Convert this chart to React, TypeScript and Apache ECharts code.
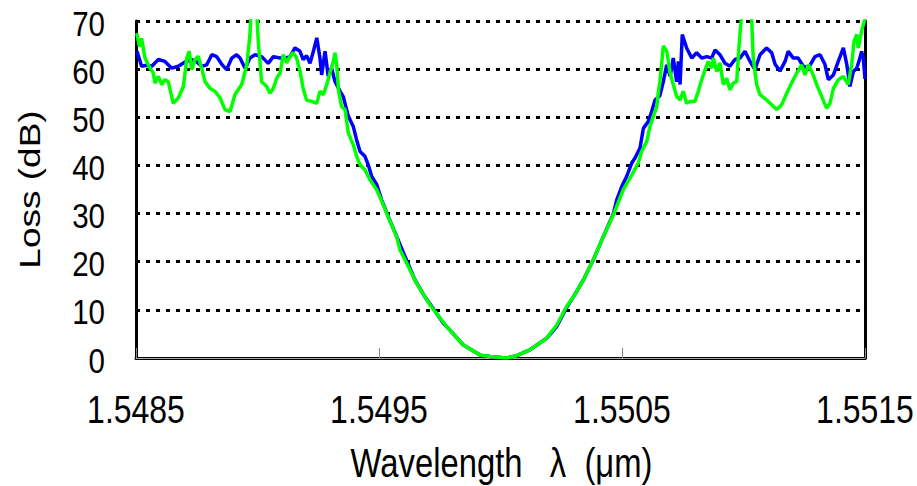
import React, { useEffect, useRef } from "react";
import * as echarts from "echarts";

// Wavelength axis (nm) and tick labels (shown in µm)
const xMinNm = 1548.5;
const xMaxNm = 1551.5;
const xTickValuesNm = [1548.5, 1549.5, 1550.5, 1551.5];
const xTickLabels = ["1.5485", "1.5495", "1.5505", "1.5515"];
const yTickValues = [0, 10, 20, 30, 40, 50, 60, 70];
const yTickLabels = ["0", "10", "20", "30", "40", "50", "60", "70"];
const xTitle = "Wavelength   \u03bb  (\u03bcm)";
const yTitle = "Loss (dB)";

const blueWavelengthNm = [
  1548.504, 1548.523, 1548.544, 1548.565, 1548.592, 1548.619, 1548.647, 1548.674, 1548.702, 1548.729,
  1548.750, 1548.770, 1548.791, 1548.812, 1548.832, 1548.853, 1548.873, 1548.894, 1548.914, 1548.928,
  1548.949, 1548.969, 1548.990, 1549.017, 1549.044, 1549.065, 1549.093, 1549.113, 1549.134, 1549.154,
  1549.175, 1549.188, 1549.202, 1549.216, 1549.230, 1549.244, 1549.257, 1549.264, 1549.278, 1549.291,
  1549.305, 1549.319, 1549.340, 1549.353, 1549.374, 1549.394, 1549.408, 1549.422, 1549.442, 1549.456,
  1549.470, 1549.491, 1549.511, 1549.538, 1549.573, 1549.607, 1549.648, 1549.689, 1549.723, 1549.765,
  1549.792, 1549.847, 1549.916, 1549.957, 1550.025, 1550.067, 1550.121, 1550.190, 1550.231, 1550.272,
  1550.300, 1550.341, 1550.382, 1550.423, 1550.464, 1550.478, 1550.499, 1550.519, 1550.540, 1550.553,
  1550.574, 1550.588, 1550.608, 1550.622, 1550.636, 1550.656, 1550.670, 1550.684, 1550.698, 1550.711,
  1550.725, 1550.732, 1550.739, 1550.748, 1550.766, 1550.787, 1550.807, 1550.828, 1550.849, 1550.869,
  1550.883, 1550.903, 1550.924, 1550.944, 1550.965, 1550.986, 1551.006, 1551.027, 1551.047, 1551.068,
  1551.095, 1551.116, 1551.130, 1551.150, 1551.171, 1551.184, 1551.205, 1551.225, 1551.246, 1551.267,
  1551.294, 1551.315, 1551.335, 1551.349, 1551.370, 1551.390, 1551.411, 1551.425, 1551.438, 1551.452,
  1551.466, 1551.479, 1551.486, 1551.493, 1551.500,
];
const blueLossDb = [
  63.7, 60.6, 60.8, 60.6, 62.0, 61.6, 60.2, 60.6, 61.5, 62.0,
  61.5, 60.6, 60.9, 63.0, 62.6, 61.0, 59.9, 62.3, 63.0, 62.3,
  60.2, 62.3, 63.0, 62.6, 61.2, 62.6, 62.3, 62.3, 62.6, 64.4,
  63.7, 62.0, 62.8, 61.2, 63.7, 66.5, 62.3, 58.8, 63.7, 58.5,
  60.2, 57.4, 55.4, 54.3, 50.2, 48.1, 45.3, 42.9, 41.9, 40.1,
  37.7, 36.0, 32.8, 29.4, 25.2, 21.1, 16.2, 12.7, 10.3, 7.2,
  5.8, 2.7, 0.6, 0.3, 0.0, 0.5, 1.7, 4.1, 6.5, 10.5,
  12.7, 16.2, 20.4, 25.2, 29.9, 32.8, 35.6, 37.7, 40.5, 41.5,
  43.6, 47.7, 49.1, 51.2, 53.6, 54.5, 57.4, 60.9, 58.5, 62.3,
  57.4, 61.6, 56.8, 67.2, 64.4, 62.3, 63.4, 62.3, 62.6, 62.3,
  64.0, 63.0, 61.2, 60.6, 62.0, 62.3, 63.7, 61.6, 59.9, 63.0,
  64.4, 63.4, 61.0, 59.6, 61.6, 63.7, 62.3, 62.3, 60.6, 60.2,
  62.6, 63.0, 61.0, 57.8, 58.8, 61.6, 64.4, 61.0, 56.4, 59.5,
  60.2, 62.3, 63.7, 62.3, 58.0,
];

const greenWavelengthNm = [
  1548.503, 1548.514, 1548.523, 1548.537, 1548.558, 1548.571, 1548.578, 1548.592, 1548.606, 1548.619,
  1548.633, 1548.653, 1548.674, 1548.695, 1548.709, 1548.719, 1548.729, 1548.743, 1548.756, 1548.770,
  1548.784, 1548.805, 1548.825, 1548.846, 1548.866, 1548.887, 1548.907, 1548.935, 1548.956, 1548.969,
  1548.977, 1548.986, 1548.997, 1549.003, 1549.017, 1549.038, 1549.051, 1549.065, 1549.079, 1549.093,
  1549.106, 1549.120, 1549.134, 1549.147, 1549.161, 1549.175, 1549.188, 1549.202, 1549.223, 1549.244,
  1549.257, 1549.271, 1549.285, 1549.298, 1549.312, 1549.319, 1549.326, 1549.333, 1549.346, 1549.360,
  1549.374, 1549.394, 1549.408, 1549.422, 1549.442, 1549.463, 1549.491, 1549.511, 1549.538, 1549.573,
  1549.586, 1549.614, 1549.655, 1549.710, 1549.779, 1549.847, 1549.916, 1549.957, 1550.025, 1550.067,
  1550.121, 1550.190, 1550.204, 1550.231, 1550.272, 1550.300, 1550.341, 1550.382, 1550.423, 1550.464,
  1550.505, 1550.540, 1550.567, 1550.581, 1550.602, 1550.615, 1550.629, 1550.643, 1550.649, 1550.656,
  1550.670, 1550.684, 1550.698, 1550.711, 1550.725, 1550.739, 1550.752, 1550.766, 1550.780, 1550.800,
  1550.814, 1550.828, 1550.842, 1550.855, 1550.869, 1550.876, 1550.890, 1550.903, 1550.917, 1550.931,
  1550.944, 1550.958, 1550.972, 1550.981, 1550.990, 1551.002, 1551.019, 1551.034, 1551.040, 1551.054,
  1551.068, 1551.095, 1551.116, 1551.137, 1551.157, 1551.178, 1551.198, 1551.219, 1551.239, 1551.253,
  1551.267, 1551.287, 1551.301, 1551.322, 1551.342, 1551.356, 1551.370, 1551.390, 1551.411, 1551.431,
  1551.445, 1551.455, 1551.466, 1551.472, 1551.486, 1551.493, 1551.500,
];
const greenLossDb = [
  67.5, 64.7, 66.4, 62.3, 60.2, 59.2, 57.1, 58.5, 56.8, 57.8,
  57.4, 52.9, 54.0, 56.4, 62.3, 63.7, 59.9, 62.0, 62.7, 60.2,
  57.4, 56.0, 55.4, 54.0, 51.6, 51.2, 54.7, 56.8, 60.9, 67.2,
  75.0, 80.0, 72.0, 65.8, 57.4, 56.4, 55.0, 56.0, 58.1, 59.2,
  63.0, 61.3, 62.7, 63.4, 62.3, 59.5, 56.0, 53.6, 53.3, 52.9,
  55.4, 54.7, 56.8, 59.2, 61.6, 63.4, 60.9, 55.7, 52.2, 51.6,
  46.7, 44.3, 41.9, 40.1, 39.1, 37.0, 34.9, 32.6, 29.3, 25.1,
  22.5, 19.7, 15.5, 11.0, 6.5, 2.7, 0.6, 0.3, 0.0, 0.5,
  1.7, 4.1, 5.1, 6.8, 10.7, 12.7, 16.2, 20.4, 25.2, 29.7,
  34.9, 38.0, 40.5, 42.9, 45.0, 48.1, 50.2, 52.2, 55.0, 57.4,
  64.8, 63.7, 59.2, 56.8, 54.3, 53.6, 55.4, 52.9, 53.3, 53.3,
  55.4, 57.8, 59.9, 61.6, 60.2, 62.3, 59.5, 61.3, 56.8, 58.1,
  55.7, 57.1, 57.4, 64.4, 70.0, 78.0, 78.0, 70.0, 62.3, 56.8,
  54.7, 53.6, 52.6, 51.6, 52.6, 55.0, 57.1, 59.2, 60.9, 58.8,
  60.9, 58.8, 56.8, 54.3, 51.9, 52.9, 56.0, 57.8, 58.5, 56.8,
  60.9, 65.8, 67.2, 64.4, 67.9, 69.2, 70.5,
];

const textFont = "'Liberation Sans', Arial, sans-serif";
// The reference's lettering is horizontally condensed (Arial Narrow look)
const condense = 0.82;

export default function App() {
  const ref = useRef<HTMLDivElement | null>(null);

  useEffect(() => {
    if (!ref.current) return;
    const chart = echarts.init(ref.current, undefined, { renderer: "svg" });
    const zip = (xs: number[], ys: number[]) => xs.map((x, i) => [x, ys[i]]);

    chart.setOption({
      animation: false,
      backgroundColor: "#ffffff",
      grid: { left: 136, right: 52, top: 21, bottom: 128, containLabel: false },
      xAxis: [
        {
          type: "value",
          min: xMinNm,
          max: xMaxNm,
          interval: 1,
          position: "bottom",
          axisLine: { show: true, onZero: false, lineStyle: { color: "#000", width: 3 } },
          axisTick: { show: true, inside: true, length: 10, lineStyle: { color: "#888", width: 1 } },
          axisLabel: { show: false },
          splitLine: { show: false },
        },
        {
          type: "value",
          min: xMinNm,
          max: xMaxNm,
          position: "top",
          axisLine: { show: true, lineStyle: { color: "#aaa", width: 1 } },
          axisTick: { show: false },
          axisLabel: { show: false },
          splitLine: { show: false },
        },
      ],
      yAxis: [
        {
          type: "value",
          min: 0,
          max: 70,
          interval: 10,
          axisLine: { show: true, lineStyle: { color: "#000", width: 3 } },
          axisTick: { show: false },
          axisLabel: { show: false },
          splitLine: { show: true, lineStyle: { color: "#000", width: 3, type: [4, 6] } },
        },
        {
          type: "value",
          min: 0,
          max: 70,
          position: "right",
          axisLine: { show: true, lineStyle: { color: "#000", width: 3 } },
          axisTick: { show: false },
          axisLabel: { show: false },
          splitLine: { show: false },
        },
      ],
      series: [
        {
          type: "line",
          name: "blue",
          data: zip(blueWavelengthNm, blueLossDb),
          showSymbol: false,
          clip: true,
          lineStyle: { color: "#0000ff", width: 3.5 },
          itemStyle: { color: "#0000ff" },
          z: 3,
        },
        {
          type: "line",
          name: "green",
          data: zip(greenWavelengthNm, greenLossDb),
          showSymbol: false,
          clip: true,
          lineStyle: { color: "#00ff00", width: 3.5 },
          itemStyle: { color: "#00ff00" },
          z: 4,
        },
      ],
    });

    // Condensed axis texts, placed through the axes' own scales
    const toPx = (x: number, y: number) =>
      chart.convertToPixel({ xAxisIndex: 0, yAxisIndex: 0 }, [x, y]) as number[];
    const [left, bottom] = toPx(xMinNm, 0);
    const [right, top] = toPx(xMaxNm, 70);

    const graphics: any[] = [];
    xTickValuesNm.forEach((v, i) => {
      const [px] = toPx(v, 0);
      graphics.push({
        type: "text",
        x: px,
        y: bottom + 52,
        scaleX: condense,
        silent: true,
        style: {
          text: xTickLabels[i],
          font: `39px ${textFont}`,
          fill: "#000",
          textAlign: "center",
          textVerticalAlign: "middle",
        },
      });
    });
    yTickValues.forEach((v, i) => {
      const [, py] = toPx(xMinNm, v);
      graphics.push({
        type: "text",
        x: left - 31,
        y: py + 2,
        scaleX: condense,
        silent: true,
        style: {
          text: yTickLabels[i],
          font: `36px ${textFont}`,
          fill: "#000",
          textAlign: "right",
          textVerticalAlign: "middle",
        },
      });
    });
    graphics.push({
      type: "text",
      x: (left + right) / 2 + 1,
      y: bottom + 105,
      scaleX: condense,
      silent: true,
      style: {
        text: xTitle,
        font: `40px ${textFont}`,
        fill: "#000",
        textAlign: "center",
        textVerticalAlign: "middle",
      },
    });
    graphics.push({
      type: "text",
      x: left - 107,
      y: (top + bottom) / 2,
      rotation: Math.PI / 2,
      scaleY: condense,
      silent: true,
      style: {
        text: yTitle,
        font: `37px ${textFont}`,
        fill: "#000",
        textAlign: "center",
        textVerticalAlign: "middle",
      },
    });
    chart.setOption({ graphic: graphics });

    return () => chart.dispose();
  }, []);

  return (
    <div
      ref={ref}
      style={{ position: "fixed", left: 0, top: 0, width: 917, height: 486, background: "#fff" }}
    />
  );
}
